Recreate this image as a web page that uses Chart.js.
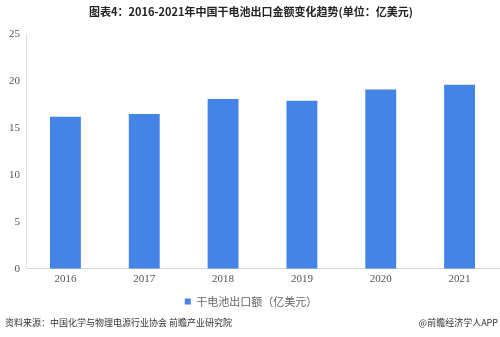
<!DOCTYPE html>
<html><head><meta charset="utf-8">
<script src="https://cdn.jsdelivr.net/npm/chart.js@4"></script>
<style>html,body{margin:0;padding:0;background:#fff;}#wrap{position:relative;width:500px;height:337px;}</style>
</head><body><div id="wrap"><canvas id="c" width="500" height="337"></canvas></div>
<script>
const categories = ['2016','2017','2018','2019','2020','2021'];
const exportValues = [16.2, 16.5, 18.1, 17.9, 19.1, 19.6];
const yTicks = [0, 5, 10, 15, 20, 25];
const titleText = '图表4：2016-2021年中国干电池出口金额变化趋势(单位：亿美元)';
const seriesName = '干电池出口额（亿美元）';
const sourceText = '资料来源：中国化学与物理电源行业协会 前瞻产业研究院';
const creditText = '@前瞻经济学人APP';

const footer = {
  id: 'footer',
  afterDraw(chart) {
    const ctx = chart.ctx;
    ctx.save();
    ctx.fillStyle = '#333';
    ctx.font = '9px "Noto Sans CJK SC"';
    ctx.textBaseline = 'middle';
    ctx.textAlign = 'left';
    ctx.fillText(sourceText, 5, 323);
    ctx.textAlign = 'right';
    ctx.fillText(creditText, 498, 323);
    ctx.restore();
  }
};

new Chart(document.getElementById('c'), {
  type: 'bar',
  data: {
    labels: categories,
    datasets: [{
      label: seriesName,
      data: exportValues,
      backgroundColor: '#4384e6',
      categoryPercentage: 0.8,
      barPercentage: 0.49
    }]
  },
  options: {
    responsive: false,
    animation: false,
    layout: { padding: { left: 3, right: 1, top: 0, bottom: 20 } },
    plugins: {
      title: {
        display: true, text: titleText, color: '#222',
        font: { family: '"Noto Sans CJK SC"', size: 11, weight: 'bold' },
        padding: { top: 5, bottom: 16 }
      },
      legend: {
        position: 'bottom',
        labels: {
          boxWidth: 6, boxHeight: 6, color: '#666',
          font: { family: '"Noto Sans CJK SC"', size: 11 },
          padding: 6
        }
      },
      tooltip: { enabled: false }
    },
    scales: {
      x: {
        grid: { display: false, drawTicks: false },
        border: { color: '#d9d9d9' },
        ticks: { color: '#555', font: { family: '"Liberation Serif"', size: 11 }, padding: 4 }
      },
      y: {
        min: 0, max: 25,
        afterBuildTicks(s) { s.ticks = yTicks.map(v => ({ value: v })); },
        grid: { display: false, drawTicks: false },
        border: { color: '#e3e3e3' },
        ticks: { color: '#555', font: { family: '"Liberation Serif"', size: 11 }, padding: 6 }
      }
    }
  },
  plugins: [footer]
});
</script></body></html>
